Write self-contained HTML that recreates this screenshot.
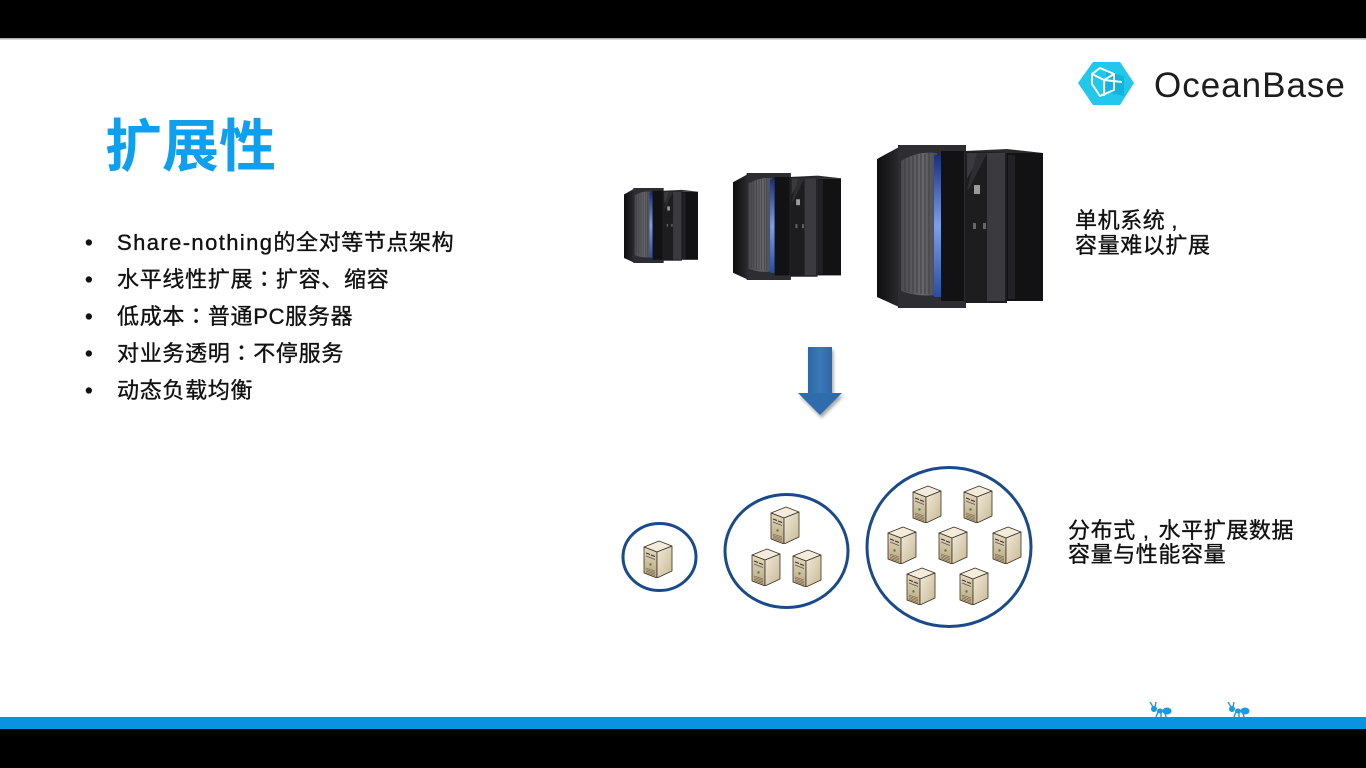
<!DOCTYPE html>
<html><head><meta charset="utf-8">
<style>
html,body{margin:0;padding:0;background:#fff;}
svg{display:block;}
.cjk{font-family:"Liberation Sans","Noto Sans CJK SC",sans-serif;}
.p{font-family:"Noto Sans CJK TC",sans-serif;}
</style></head>
<body>
<svg width="1366" height="768" viewBox="0 0 1366 768" xmlns="http://www.w3.org/2000/svg">
<defs>
  <linearGradient id="blue" x1="0" y1="0" x2="0" y2="1">
    <stop offset="0" stop-color="#1a2f78"/>
    <stop offset="0.5" stop-color="#7d9fe6"/>
    <stop offset="1" stop-color="#2a4ca0"/>
  </linearGradient>
  <linearGradient id="side" x1="0" y1="0" x2="1" y2="0">
    <stop offset="0" stop-color="#0e0e10"/>
    <stop offset="1" stop-color="#2a2a2e"/>
  </linearGradient>
  <linearGradient id="door" x1="0" y1="0" x2="1" y2="0">
    <stop offset="0" stop-color="#4a4a4e"/>
    <stop offset="0.6" stop-color="#68686c"/>
    <stop offset="1" stop-color="#4a4a4e"/>
  </linearGradient>
  <linearGradient id="sf" x1="0" y1="0" x2="0" y2="1">
    <stop offset="0" stop-color="#e3d7bc"/>
    <stop offset="1" stop-color="#b9a680"/>
  </linearGradient>
  <linearGradient id="ss" x1="0" y1="0" x2="1" y2="1">
    <stop offset="0" stop-color="#f1eada"/>
    <stop offset="1" stop-color="#c8b994"/>
  </linearGradient>
  <linearGradient id="arr" x1="0" y1="0" x2="1" y2="0">
    <stop offset="0" stop-color="#2d68a8"/>
    <stop offset="0.5" stop-color="#3a78b8"/>
    <stop offset="1" stop-color="#2d68a8"/>
  </linearGradient>
  <filter id="shd" x="-30%" y="-30%" width="160%" height="160%">
    <feDropShadow dx="1.5" dy="3" stdDeviation="1.5" flood-color="#000" flood-opacity="0.35"/>
  </filter>

  <symbol id="mf" viewBox="0 0 166 163" preserveAspectRatio="none">
    <polygon points="0,14 22,2 22,162 0,152" fill="url(#side)"/>
    <rect x="21" y="0" width="68" height="163" fill="#2e2e32"/>
    <path d="M24,16 Q40,6 60,8 L60,150 Q40,152 24,146 Z" fill="url(#door)"/>
    <g stroke="#3e3e42" stroke-width="1">
      <line x1="28" y1="14" x2="28" y2="146"/><line x1="32" y1="12" x2="32" y2="147"/>
      <line x1="36" y1="11" x2="36" y2="148"/><line x1="40" y1="10" x2="40" y2="148"/>
      <line x1="44" y1="9" x2="44" y2="149"/><line x1="48" y1="9" x2="48" y2="149"/>
      <line x1="52" y1="8" x2="52" y2="149"/>
    </g>
    <rect x="57" y="10" width="7" height="142" fill="url(#blue)"/>
    <rect x="64" y="6" width="23" height="150" fill="#121214"/>
    <rect x="88" y="6" width="42" height="152" fill="#1d1d20"/>
    <polygon points="90,8 104,8 90,34" fill="#3a3a3e"/>
    <polygon points="100,8 110,8 92,44 90,44" fill="#2e2e32"/>
    <rect x="110" y="8" width="18" height="148" fill="#3a3a3f"/>
    <rect x="97" y="40" width="6" height="9" fill="#9a9a9a"/>
    <rect x="96" y="78" width="3" height="6" fill="#666"/>
    <rect x="106" y="78" width="3" height="6" fill="#666"/>
    <rect x="130" y="8" width="36" height="148" fill="#121214"/>
    <rect x="131" y="10" width="7" height="144" fill="#222226"/>
    <polygon points="88,6 130,4 166,8 130,8" fill="#2a2a2e"/>
  </symbol>

  <symbol id="srv" viewBox="0 0 30 40">
    <polygon points="1,9 16,3 29,8 14,14" fill="#f3ecdc" stroke="#3a3022" stroke-width="0.8" stroke-linejoin="round"/>
    <polygon points="1,9 14,14 14,40 1,35" fill="url(#sf)" stroke="#3a3022" stroke-width="0.8" stroke-linejoin="round"/>
    <polygon points="14,14 29,8 29,33 14,40" fill="url(#ss)" stroke="#3a3022" stroke-width="0.8" stroke-linejoin="round"/>
    <line x1="3" y1="15" x2="7" y2="16.5" stroke="#333" stroke-width="1"/>
    <line x1="8" y1="17" x2="12" y2="18.5" stroke="#333" stroke-width="1"/>
    <line x1="3" y1="18" x2="12" y2="21.5" stroke="#555" stroke-width="0.8"/>
    <circle cx="7.5" cy="26.5" r="1.2" fill="#3c8a4a"/>
    <g stroke="#6d5f45" stroke-width="0.6">
      <line x1="3" y1="30" x2="12" y2="33"/><line x1="3" y1="31.5" x2="12" y2="34.5"/>
      <line x1="3" y1="33" x2="12" y2="36"/><line x1="3" y1="34.5" x2="12" y2="37.5"/>
    </g>
  </symbol>

  <symbol id="ant" viewBox="0 0 24 15">
    <g fill="#1a9ae0" stroke="#1a9ae0">
      <circle cx="6" cy="7" r="3" stroke="none"/>
      <ellipse cx="12" cy="9" rx="3" ry="2.5" stroke="none"/>
      <ellipse cx="19" cy="9" rx="4.5" ry="3.5" stroke="none"/>
      <line x1="5" y1="5" x2="2" y2="0" stroke-width="1.4"/>
      <line x1="7" y1="5" x2="8" y2="0" stroke-width="1.4"/>
      <line x1="10" y1="10" x2="8" y2="15" stroke-width="1.4"/>
      <line x1="13" y1="10" x2="13" y2="15" stroke-width="1.4"/>
      <line x1="17" y1="11" x2="18" y2="15" stroke-width="1.4"/>
    </g>
  </symbol>
</defs>

<!-- top / bottom bars -->
<rect x="0" y="0" width="1366" height="38" fill="#000"/>
<rect x="0" y="38" width="1366" height="1.5" fill="#b0b0b0"/>
<rect x="0" y="717" width="1366" height="12" fill="#0894e0"/>
<rect x="0" y="729" width="1366" height="39" fill="#000"/>

<!-- logo -->
<polygon points="1078,83 1093,62 1120,62 1134,83 1120,105 1093,105" fill="#22c8ec"/>
<polygon points="1106,72 1124,76 1124,96 1106,92" fill="#12b3dc"/>
<g fill="none" stroke="#fff" stroke-width="2" stroke-linejoin="round">
  <polygon points="1100,68 1114,74 1114,90 1100,96 1092,84 1092,74"/>
  <polyline points="1092,74 1104,80 1114,74"/>
  <line x1="1104" y1="80" x2="1104" y2="96"/>
  <line x1="1104" y1="80" x2="1122" y2="82"/>
</g>
<text x="1154" y="97" font-family="Liberation Sans, sans-serif" font-size="35" letter-spacing="1" fill="#1d1d1d">OceanBase</text>

<!-- title -->
<text x="105" y="166" class="cjk" font-size="57" font-weight="bold" fill="#0ea0ee">扩展性</text>

<!-- bullets -->
<g class="cjk" font-size="22" fill="#111" stroke="#111" stroke-width="0.35">
  <text x="85" y="250">•</text>
  <text x="85" y="287">•</text>
  <text x="85" y="324">•</text>
  <text x="85" y="361">•</text>
  <text x="85" y="398">•</text>
  <text x="117" y="250"><tspan letter-spacing="1.4">Share-nothing</tspan><tspan letter-spacing="0.6">的全对等节点架构</tspan></text>
  <text x="117" y="287" letter-spacing="0.7">水平线性扩展<tspan class="p">：</tspan>扩容、缩容</text>
  <text x="117" y="324" letter-spacing="0.7">低成本<tspan class="p">：</tspan>普通PC服务器</text>
  <text x="117" y="361" letter-spacing="0.7">对业务透明<tspan class="p">：</tspan>不停服务</text>
  <text x="117" y="398" letter-spacing="0.7">动态负载均衡</text>
</g>

<!-- mainframes -->
<use href="#mf" x="624" y="188" width="74" height="75"/>
<use href="#mf" x="733" y="173" width="108" height="107"/>
<use href="#mf" x="877" y="145" width="166" height="163"/>

<g class="cjk" font-size="22" fill="#111" stroke="#111" stroke-width="0.35" letter-spacing="0.6">
  <text x="1075" y="228">单机系统<tspan dx="6">,</tspan></text>
  <text x="1075" y="253">容量难以扩展</text>
  <text x="1068" y="538">分布式<tspan dx="7">,</tspan><tspan dx="9">水平扩展数据</tspan></text>
  <text x="1068" y="562">容量与性能容量</text>
</g>

<!-- arrow -->
<g filter="url(#shd)">
  <rect x="808" y="347" width="24" height="47" fill="url(#arr)"/>
  <polygon points="798,393 842,393 820,415" fill="#2f6cab"/>
</g>

<!-- clusters -->
<g fill="none" stroke="#1b4a8c" stroke-width="3">
  <ellipse cx="659.5" cy="557" rx="36.5" ry="33.5"/>
  <ellipse cx="786.5" cy="551" rx="61.5" ry="56.5"/>
  <ellipse cx="949" cy="547" rx="82" ry="79.5"/>
</g>
<use href="#srv" x="643" y="538" width="30" height="40"/>
<use href="#srv" x="770" y="504" width="30" height="40"/>
<use href="#srv" x="751" y="546" width="30" height="40"/>
<use href="#srv" x="792" y="547" width="30" height="40"/>
<use href="#srv" x="912" y="483" width="30" height="40"/>
<use href="#srv" x="963" y="483" width="30" height="40"/>
<use href="#srv" x="887" y="524" width="30" height="40"/>
<use href="#srv" x="938" y="524" width="30" height="40"/>
<use href="#srv" x="992" y="524" width="30" height="40"/>
<use href="#srv" x="906" y="565" width="30" height="40"/>
<use href="#srv" x="959" y="565" width="30" height="40"/>

<!-- ants -->
<use href="#ant" x="1148" y="702" width="24" height="15"/>
<use href="#ant" x="1226" y="702" width="24" height="15"/>
</svg>
</body></html>
